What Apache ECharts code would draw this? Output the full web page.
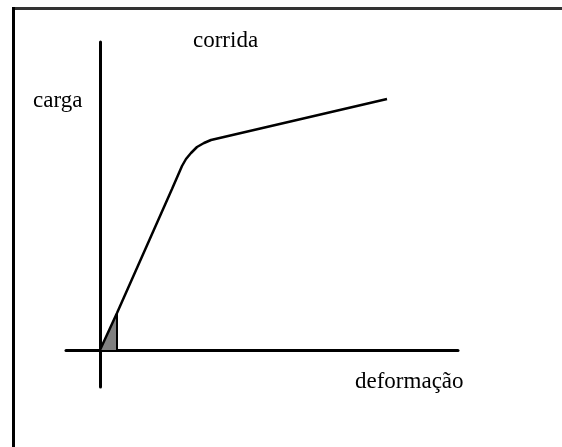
<!DOCTYPE html>
<html>
<head>
<meta charset="utf-8">
<script src="https://cdn.jsdelivr.net/npm/echarts@6/dist/echarts.min.js"></script>
<style>html,body{margin:0;padding:0;background:#fff}#c{width:562px;height:447px}</style>
</head>
<body>
<div id="c"></div>
<script>
// Data (arbitrary units)
const curveDeformacao = [0, 1.7, 7.2, 8.2, 8.6, 9.1, 9.7, 10.4, 11.1, 28.7];
const curveCarga      = [0, 3.7, 16.1, 18.4, 19.1, 19.7, 20.3, 20.7, 21.0, 25.1];
const triangleDeformacao = [0, 1.7];
const triangleCarga      = [0, 3.7];
const labels = { top: 'corrida', yName: 'carga', xName: 'deformação' };

const pairs = (xs, ys) => xs.map((x, i) => [x, ys[i]]);

const chart = echarts.init(document.getElementById('c'), null, { renderer: 'canvas' });
const font = '23px "Liberation Serif", "DejaVu Serif", serif';
chart.setOption({
  animation: false,
  backgroundColor: '#fff',
  grid: { left: 66, right: 104, top: 42, bottom: 60 },
  xAxis: {
    type: 'value', min: -3.4, max: 35.8,
    axisLine: { onZero: true, lineStyle: { color: '#000', width: 3 } },
    axisTick: { show: false }, axisLabel: { show: false }, splitLine: { show: false }
  },
  yAxis: {
    type: 'value', min: -3.7, max: 30.8,
    axisLine: { show: true, onZero: true, lineStyle: { color: '#000', width: 3 } },
    axisTick: { show: false }, axisLabel: { show: false }, splitLine: { show: false }
  },
  series: [
    {
      type: 'line', data: pairs(triangleDeformacao, triangleCarga),
      symbol: 'none', lineStyle: { width: 0 },
      areaStyle: { color: '#808080', opacity: 1 }, z: 1
    },
    {
      type: 'line', data: [[triangleDeformacao[1], 0], [triangleDeformacao[1], triangleCarga[1]]],
      symbol: 'none', lineStyle: { color: '#000', width: 2 }, z: 2
    },
    {
      type: 'line', data: pairs(curveDeformacao, curveCarga),
      symbol: 'none', smooth: false,
      lineStyle: { color: '#000', width: 2.5 }, z: 3
    }
  ],
  graphic: [
    { type: 'line', shape: { x1: 12, y1: 8.5, x2: 562, y2: 8.5 }, style: { stroke: '#333', lineWidth: 3 } },
    { type: 'line', shape: { x1: 13.5, y1: 7, x2: 13.5, y2: 447 }, style: { stroke: '#000', lineWidth: 3 } },
    { type: 'text', style: { text: labels.top, x: 193, y: 41, font: font, fill: '#000', verticalAlign: 'middle' } },
    { type: 'text', style: { text: labels.yName, x: 33, y: 101, font: font, fill: '#000', verticalAlign: 'middle' } },
    { type: 'text', style: { text: labels.xName, x: 355, y: 382, font: font, fill: '#000', verticalAlign: 'middle' } }
  ]
});
</script>
</body>
</html>
